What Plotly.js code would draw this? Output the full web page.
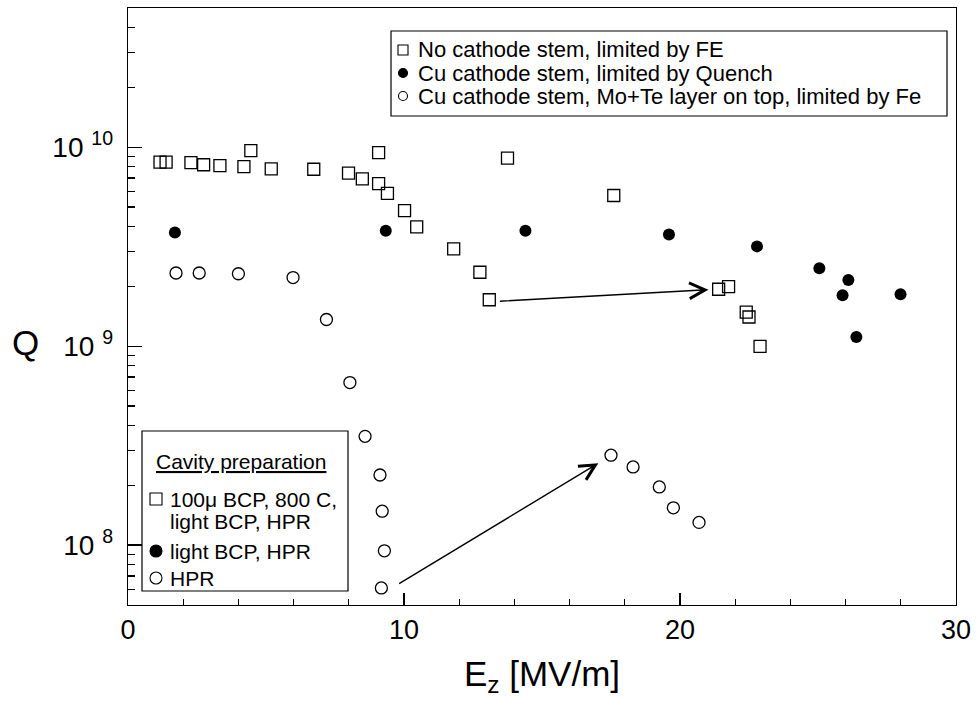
<!DOCTYPE html>
<html>
<head>
<meta charset="utf-8">
<script src="https://cdn.plot.ly/plotly-3.0.1.min.js"></script>
<style>html,body{margin:0;padding:0;background:#fff;}</style>
</head>
<body>
<div id="chart" style="width:977px;height:701px;"></div>
<script>
// ---- measured data: accelerating field E_z [MV/m] vs quality factor Q ----
// No cathode stem, limited by field emission
const feE = [1.16, 1.38, 2.28, 2.74, 3.33, 4.20, 4.45, 5.19, 6.73, 7.99, 8.49, 9.08, 9.08, 9.40, 10.02, 10.46, 11.80, 12.75, 13.09, 13.75, 17.60, 21.40, 21.76, 22.40, 22.50, 22.90];
const feQ = [8.4e9, 8.4e9, 8.35e9, 8.15e9, 8.07e9, 7.98e9, 9.6e9, 7.78e9, 7.74e9, 7.4e9, 6.93e9, 9.38e9, 6.55e9, 5.85e9, 4.79e9, 3.97e9, 3.08e9, 2.35e9, 1.71e9, 8.8e9, 5.71e9, 1.93e9, 1.99e9, 1.48e9, 1.40e9, 9.97e8];

// Cu cathode stem, limited by quench
const quenchE = [1.70, 9.34, 14.40, 19.60, 22.79, 25.05, 26.10, 25.89, 27.99, 26.39];
const quenchQ = [3.72e9, 3.80e9, 3.80e9, 3.64e9, 3.17e9, 2.46e9, 2.15e9, 1.80e9, 1.82e9, 1.11e9];

// Cu cathode stem with Mo+Te layer, limited by field emission
const moteE = [1.74, 2.58, 4.00, 5.98, 7.19, 8.04, 8.59, 9.13, 9.21, 9.29, 9.18, 17.50, 18.30, 19.25, 19.76, 20.69];
const moteQ = [2.33e9, 2.33e9, 2.31e9, 2.21e9, 1.36e9, 6.56e8, 3.52e8, 2.25e8, 1.48e8, 9.36e7, 6.09e7, 2.83e8, 2.47e8, 1.96e8, 1.54e8, 1.30e8];

// arrows showing the improvement after processing
const arrowFromE = [13.42, 9.77];
const arrowFromQ = [1.68e9, 6.34e7];
const arrowToE = [21.03, 17.04];
const arrowToQ = [1.92e9, 2.58e8];

// axis ticks
const xTickVals = [0, 10, 20, 30];
const xTickText = ['0', '10', '20', '30'];
const xMinorVals = [2, 4, 6, 8, 12, 14, 16, 18, 22, 24, 26, 28];
const yTickVals = [1e8, 1e9, 1e10];
const yTickExp = ['8', '9', '10'];
const yMinorMult = [2, 3, 4, 5, 6, 7, 8, 9];
const yDecades = [1e7, 1e8, 1e9, 1e10];

// legend texts and key symbols
const seriesNames = [
  'No cathode stem, limited by FE',
  'Cu cathode stem, limited by Quench',
  'Cu cathode stem, Mo+Te layer on top, limited by Fe'
];
const seriesKeys = ['square', 'dot', 'ring'];
const prepTitle = 'Cavity preparation';
const prepLines = ['100\u03BC BCP, 800 C,', 'light BCP, HPR', 'light BCP, HPR', 'HPR'];
const prepKeys = ['square', '', 'dot', 'ring'];

const FONT = 'Liberation Sans, Arial, Helvetica, sans-serif';

const yTickText = yTickExp.map(e => '10 <sup style="font-size:82%">' + e + '</sup>');
const yMinorVals = [];
yDecades.forEach(d => yMinorMult.forEach(m => yMinorVals.push(d * m)));

// plot-area pixel box, used to place the boxed keys in paper units
const L = 128, R = 956, T = 8, B = 605;
const px = x => (x - L) / (R - L);
const py = y => (B - y) / (B - T);

const traces = [
  { x: feE, y: feQ, name: seriesNames[0], type: 'scatter', mode: 'markers',
    marker: { symbol: 'square-open', size: 12, color: '#000', line: { width: 1.3, color: '#000' } } },
  { x: quenchE, y: quenchQ, name: seriesNames[1], type: 'scatter', mode: 'markers',
    marker: { symbol: 'circle', size: 12, color: '#000' } },
  { x: moteE, y: moteQ, name: seriesNames[2], type: 'scatter', mode: 'markers',
    marker: { symbol: 'circle-open', size: 12, color: '#000', line: { width: 1.3, color: '#000' } } }
];

const annotations = [];
const shapes = [];

// arrows (log axis: annotation positions are given in log10 units)
for (let i = 0; i < arrowFromE.length; i++) {
  annotations.push({
    x: arrowToE[i], y: Math.log10(arrowToQ[i]), xref: 'x', yref: 'y',
    ax: arrowFromE[i], ay: Math.log10(arrowFromQ[i]), axref: 'x', ayref: 'y',
    text: '', showarrow: true, arrowhead: 5, arrowsize: 2.2, arrowwidth: 1.4,
    arrowcolor: '#000', standoff: 0, startstandoff: 0
  });
}

// Q label
annotations.push({ x: px(25), y: py(343), xref: 'paper', yref: 'paper', text: 'Q',
  showarrow: false, xanchor: 'center', yanchor: 'middle', font: { family: FONT, size: 35, color: '#000' } });

// small key glyph drawn as a pixel-sized shape centred on (cx, cy)
function keyGlyph(kind, cx, cy, size) {
  const h = size / 2;
  shapes.push({
    type: kind === 'square' ? 'rect' : 'circle',
    xref: 'paper', yref: 'paper', xsizemode: 'pixel', ysizemode: 'pixel',
    xanchor: px(cx), yanchor: py(cy), x0: -h, x1: h, y0: -h, y1: h,
    line: { color: '#000', width: 1.1 },
    fillcolor: kind === 'dot' ? '#000' : 'rgba(0,0,0,0)'
  });
}

// boxes of the two keys
shapes.push({ type: 'rect', xref: 'paper', yref: 'paper', x0: px(391), x1: px(947), y0: py(116), y1: py(31),
  line: { color: '#000', width: 1.2 }, fillcolor: 'rgba(255,255,255,0)' });
shapes.push({ type: 'rect', xref: 'paper', yref: 'paper', x0: px(142), x1: px(348), y0: py(591), y1: py(431),
  line: { color: '#000', width: 1.2 }, fillcolor: '#fff' });

// series key (top right)
const keyRows = [50, 73, 96];
const keySize = [10, 9, 9];
seriesNames.forEach((n, i) => {
  keyGlyph(seriesKeys[i], 403, keyRows[i], keySize[i]);
  annotations.push({ x: px(416), y: py(keyRows[i]), xref: 'paper', yref: 'paper', text: n,
    showarrow: false, xanchor: 'left', yanchor: 'middle', font: { family: FONT, size: 22, color: '#000' } });
});

// preparation key (bottom left)
annotations.push({ x: px(154), y: py(461), xref: 'paper', yref: 'paper', text: '<u>' + prepTitle + '</u>',
  showarrow: false, xanchor: 'left', yanchor: 'middle', font: { family: FONT, size: 21, color: '#000' } });
const prepRows = [499, 521, 551, 578];
prepLines.forEach((t, i) => {
  if (prepKeys[i]) keyGlyph(prepKeys[i], 156, prepRows[i], 12);
  annotations.push({ x: px(168), y: py(prepRows[i]), xref: 'paper', yref: 'paper', text: t,
    showarrow: false, xanchor: 'left', yanchor: 'middle', font: { family: FONT, size: 21, color: '#000' } });
});

const layout = {
  width: 977, height: 701,
  margin: { l: L, r: 977 - R, t: T, b: 701 - B, pad: 0 },
  paper_bgcolor: '#fff', plot_bgcolor: '#fff',
  showlegend: false,
  font: { family: FONT, color: '#000' },
  xaxis: {
    range: [0, 30], showgrid: false, zeroline: false,
    showline: true, mirror: true, linecolor: '#000', linewidth: 1.3,
    tickmode: 'array', tickvals: xTickVals, ticktext: xTickText,
    ticks: 'inside', ticklen: 12, tickwidth: 1.2, tickcolor: '#000',
    ticklabelstandoff: 0,
    tickfont: { family: FONT, size: 27, color: '#000' },
    minor: { tickmode: 'array', tickvals: xMinorVals, ticks: 'inside', ticklen: 6, tickwidth: 1.2, tickcolor: '#000', showgrid: false },
    title: { text: 'E<sub>z</sub> [MV/m]', font: { family: FONT, size: 35, color: '#000' }, standoff: 17 }
  },
  yaxis: {
    type: 'log', range: [Math.log10(5e7), Math.log10(5e10)],
    showgrid: false, zeroline: false,
    showline: true, mirror: true, linecolor: '#000', linewidth: 1.3,
    tickmode: 'array', tickvals: yTickVals, ticktext: yTickText,
    ticks: 'inside', ticklen: 14, tickwidth: 1.2, tickcolor: '#000',
    ticklabelstandoff: 8,
    tickfont: { family: FONT, size: 28, color: '#000' },
    minor: { tickmode: 'array', tickvals: yMinorVals, ticks: 'inside', ticklen: 7, tickwidth: 1.2, tickcolor: '#000', showgrid: false }
  },
  annotations: annotations,
  shapes: shapes
};

Plotly.newPlot('chart', traces, layout, { displayModeBar: false, staticPlot: true });
</script>
</body>
</html>
